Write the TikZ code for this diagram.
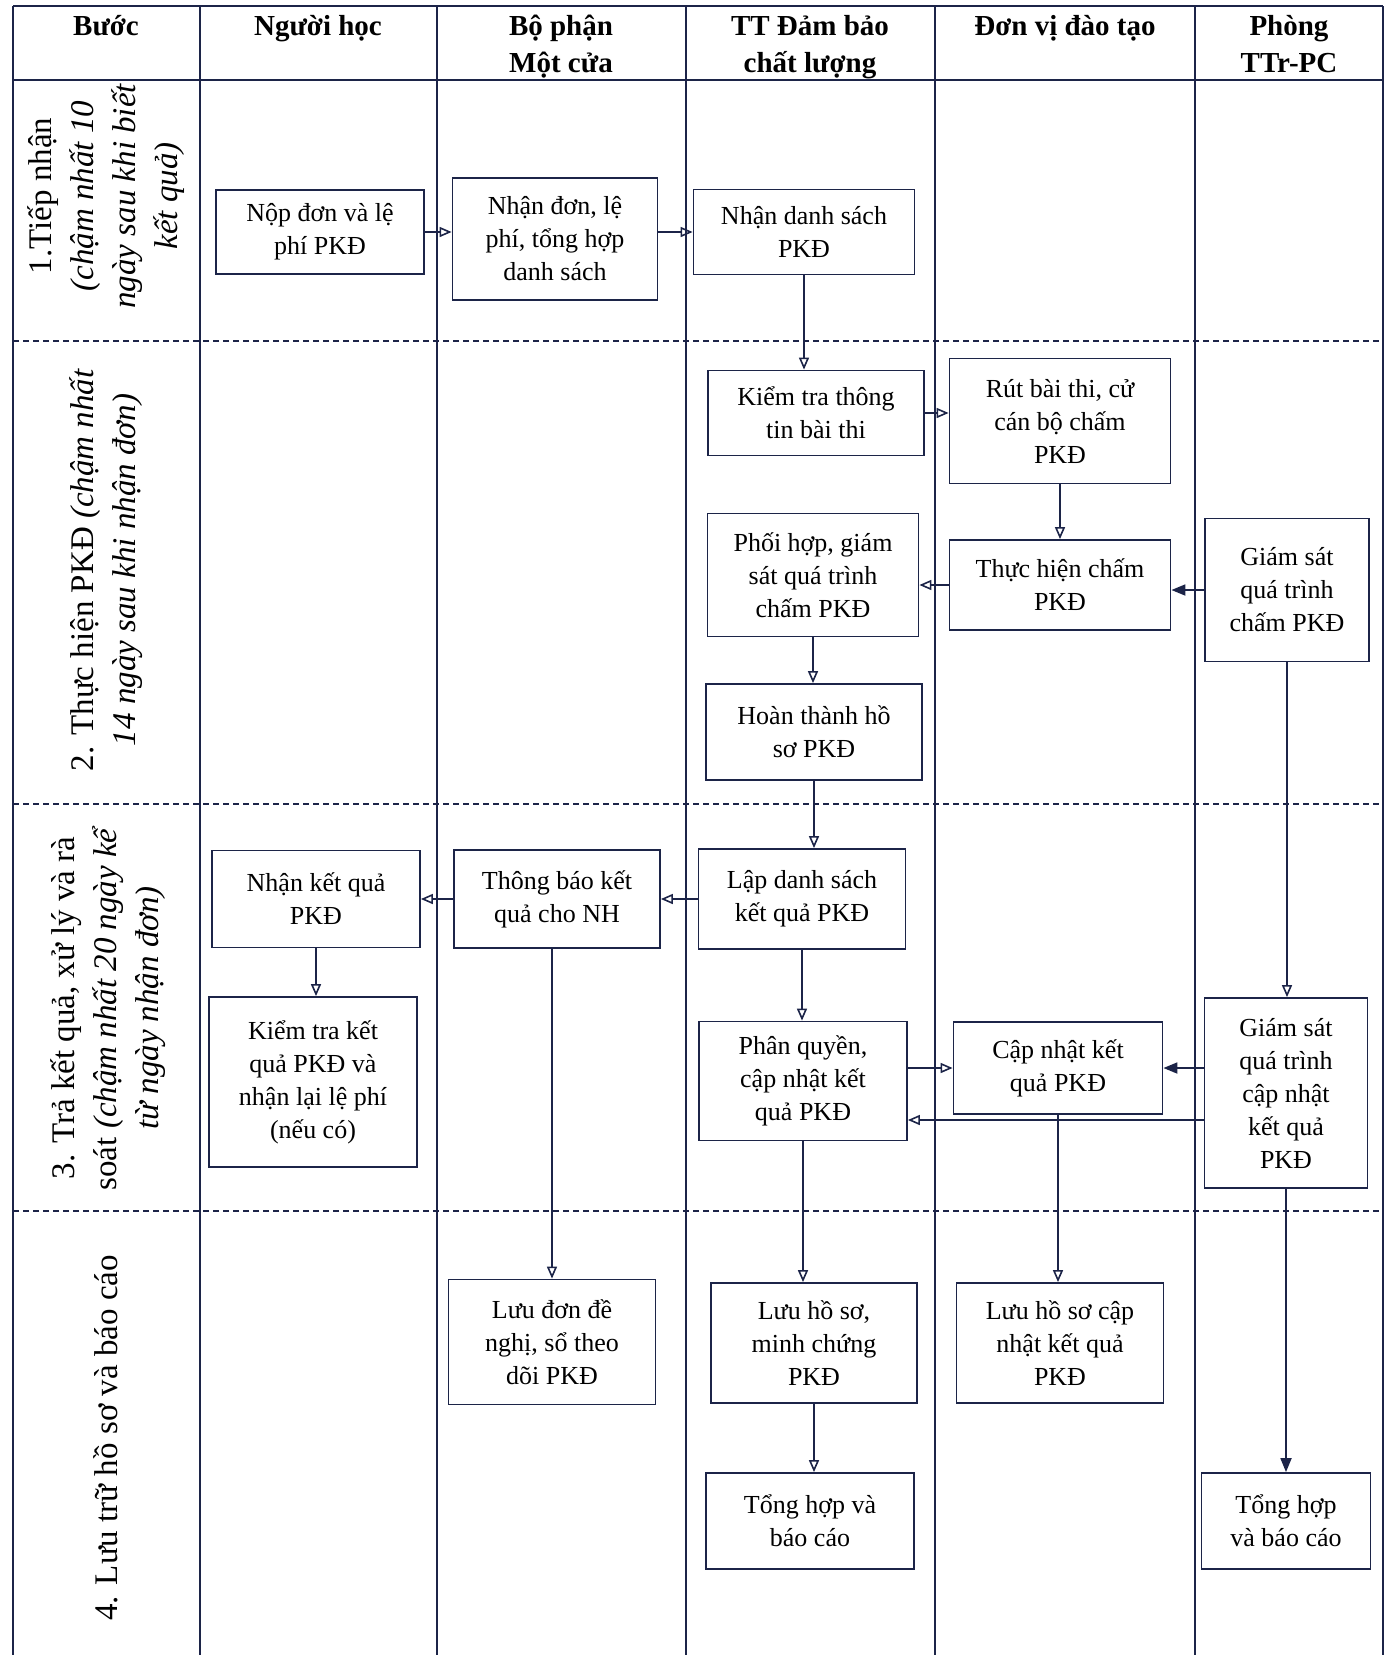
\documentclass[tikz,border=0pt]{standalone}
\usepackage{fontspec}
\setmainfont{Liberation Serif}
\usepackage{tikz}
\usetikzlibrary{arrows.meta,positioning}
\definecolor{inkblue}{RGB}{28,36,72}

\begin{document}
\begin{tikzpicture}[x=0.5pt, y=-0.5pt,
  stepbox/.style={draw=inkblue, line width=0.9pt, align=center, inner sep=2pt, font=\fontsize{13}{16.5}\selectfont},
  lanehead/.style={anchor=north, align=center, font=\fontsize{14.5}{18.5}\selectfont\bfseries},
  rowlabel/.style={rotate=90, align=center, font=\fontsize{16.5}{21}\selectfont},
  arr/.style={draw=inkblue, line width=0.8pt, -{Triangle[open, length=6pt, width=5pt]}},
  arrf/.style={draw=inkblue, line width=0.9pt, -{Triangle[length=7pt, width=5.5pt]}}]
  \useasboundingbox (0,0) rectangle (1388,1655);
  \foreach \x in {13,200,437,686,935,1195,1383}
    \draw[inkblue, line width=0.8pt] (\x,6) -- (\x,1655);
  \draw[inkblue, line width=1.3pt] (13,6) -- (1383,6) (13,80) -- (1383,80);
  \foreach \y in {341,804,1211}
    \draw[inkblue, line width=0.8pt, dash pattern=on 3pt off 2pt] (13,\y) -- (1383,\y);

  \node[lanehead] (hbuoc) at (106,8) {Bước};
  \node[lanehead] (hnh) at (318,8) {Người học};
  \node[lanehead] (hmc) at (561,8) {Bộ phận\\Một cửa};
  \node[lanehead] (hdb) at (810,8) {TT Đảm bảo\\chất lượng};
  \node[lanehead] (hdv) at (1065,8) {Đơn vị đào tạo};
  \node[lanehead] (httr) at (1289,8) {Phòng\\TTr-PC};

  \node[rowlabel] (row1) at (106,196) {1.Tiếp nhận\\\textit{(chậm nhất 10}\\\textit{ngày sau khi biết}\\\textit{kết quả)}};
  \node[rowlabel] (row2) at (106,570) {2. Thực hiện PKĐ \textit{(chậm nhất}\\\textit{14 ngày sau khi nhận đơn)}};
  \node[rowlabel] (row3) at (108,1008) {3. Trả kết quả, xử lý và rà\\soát \textit{(chậm nhất 20 ngày kể}\\\textit{từ ngày nhận đơn)}};
  \node[rowlabel] (row4) at (106,1438) {4. Lưu trữ hồ sơ và báo cáo};

  \node[stepbox, minimum width=104pt, minimum height=42pt] (nop) at (320,232) {Nộp đơn và lệ\\phí PKĐ};
  \node[stepbox, minimum width=102.5pt, minimum height=61pt] (nhandon) at (555,239) {Nhận đơn, lệ\\phí, tổng hợp\\danh sách};
  \node[stepbox, minimum width=110.5pt, minimum height=42.5pt] (nhands) at (804,232) {Nhận danh sách\\PKĐ};
  \node[stepbox, minimum width=108pt, minimum height=42.5pt] (kiemtra) at (816,413) {Kiểm tra thông\\tin bài thi};
  \node[stepbox, minimum width=110.5pt, minimum height=62.5pt] (rut) at (1060,421) {Rút bài thi, cử\\cán bộ chấm\\PKĐ};
  \node[stepbox, minimum width=105.5pt, minimum height=61.5pt] (phoihop) at (813,575) {Phối hợp, giám\\sát quá trình\\chấm PKĐ};
  \node[stepbox, minimum width=110.5pt, minimum height=45pt] (thuchien) at (1060,585) {Thực hiện chấm\\PKĐ};
  \node[stepbox, minimum width=82pt, minimum height=71.5pt] (giamsat1) at (1287,590) {Giám sát\\quá trình\\chấm PKĐ};
  \node[stepbox, minimum width=108pt, minimum height=48pt] (hoanthanh) at (814,732) {Hoàn thành hồ\\sơ PKĐ};
  \node[stepbox, minimum width=104pt, minimum height=48.5pt] (nhankq) at (316,899) {Nhận kết quả\\PKĐ};
  \node[stepbox, minimum width=103pt, minimum height=49pt] (thongbao) at (557,899) {Thông báo kết\\quả cho NH};
  \node[stepbox, minimum width=103.5pt, minimum height=50pt] (lapds) at (802,899) {Lập danh sách\\kết quả PKĐ};
  \node[stepbox, minimum width=104pt, minimum height=85pt] (kiemtrakq) at (313,1082) {Kiểm tra kết\\quả PKĐ và\\nhận lại lệ phí\\(nếu có)};
  \node[stepbox, minimum width=104pt, minimum height=59.5pt] (phanquyen) at (803,1081) {Phân quyền,\\cập nhật kết\\quả PKĐ};
  \node[stepbox, minimum width=104.5pt, minimum height=46pt] (capnhat) at (1058,1068) {Cập nhật kết\\quả PKĐ};
  \node[stepbox, minimum width=81.5pt, minimum height=95pt] (giamsat2) at (1286,1093) {Giám sát\\quá trình\\cập nhật\\kết quả\\PKĐ};
  \node[stepbox, minimum width=103.5pt, minimum height=62.5pt] (luudon) at (552,1342) {Lưu đơn đề\\nghị, sổ theo\\dõi PKĐ};
  \node[stepbox, minimum width=103pt, minimum height=60pt] (luuhs) at (814,1343) {Lưu hồ sơ,\\minh chứng\\PKĐ};
  \node[stepbox, minimum width=103.5pt, minimum height=60pt] (luucn) at (1060,1343) {Lưu hồ sơ cập\\nhật kết quả\\PKĐ};
  \node[stepbox, minimum width=104pt, minimum height=48pt] (tonghop1) at (810,1521) {Tổng hợp và\\báo cáo};
  \node[stepbox, minimum width=84.5pt, minimum height=48pt] (tonghop2) at (1286,1521) {Tổng hợp\\và báo cáo};

  \draw[arr] (nop.east) -- (nop.east -| nhandon.west);
  \draw[arr] (nhands.west -| nhandon.east) -- (nhands.west);
  \draw[arr] (nhands.south) -- (nhands.south |- kiemtra.north);
  \draw[arr] (kiemtra.east) -- (kiemtra.east -| rut.west);
  \draw[arr] (rut.south) -- (rut.south |- thuchien.north);
  \draw[arr] (thuchien.west) -- (thuchien.west -| phoihop.east);
  \draw[arrf] (giamsat1.west) -- (giamsat1.west -| thuchien.east);
  \draw[arr] (phoihop.south) -- (phoihop.south |- hoanthanh.north);
  \draw[arr] (hoanthanh.south) -- (hoanthanh.south |- lapds.north);
  \draw[arr] (giamsat1.south) -- (giamsat1.south |- giamsat2.north);
  \draw[arr] (lapds.west) -- (lapds.west -| thongbao.east);
  \draw[arr] (thongbao.west) -- (thongbao.west -| nhankq.east);
  \draw[arr] (nhankq.south) -- (nhankq.south |- kiemtrakq.north);
  \draw[arr] (lapds.south) -- (lapds.south |- phanquyen.north);
  \draw[arr] (phanquyen.east |- capnhat.west) -- (capnhat.west);
  \draw[arrf] (giamsat2.west |- capnhat.east) -- (capnhat.east);
  \draw[arr] ([yshift=-13.5pt]giamsat2.west) -- ([yshift=-13.5pt]giamsat2.west -| phanquyen.east);
  \draw[arr] (luudon.north |- thongbao.south) -- (luudon.north);
  \draw[arr] (phanquyen.south) -- (phanquyen.south |- luuhs.north);
  \draw[arr] (capnhat.south) -- (capnhat.south |- luucn.north);
  \draw[arr] (luuhs.south) -- (luuhs.south |- tonghop1.north);
  \draw[arrf] (giamsat2.south) -- (giamsat2.south |- tonghop2.north);
\end{tikzpicture}
\end{document}
